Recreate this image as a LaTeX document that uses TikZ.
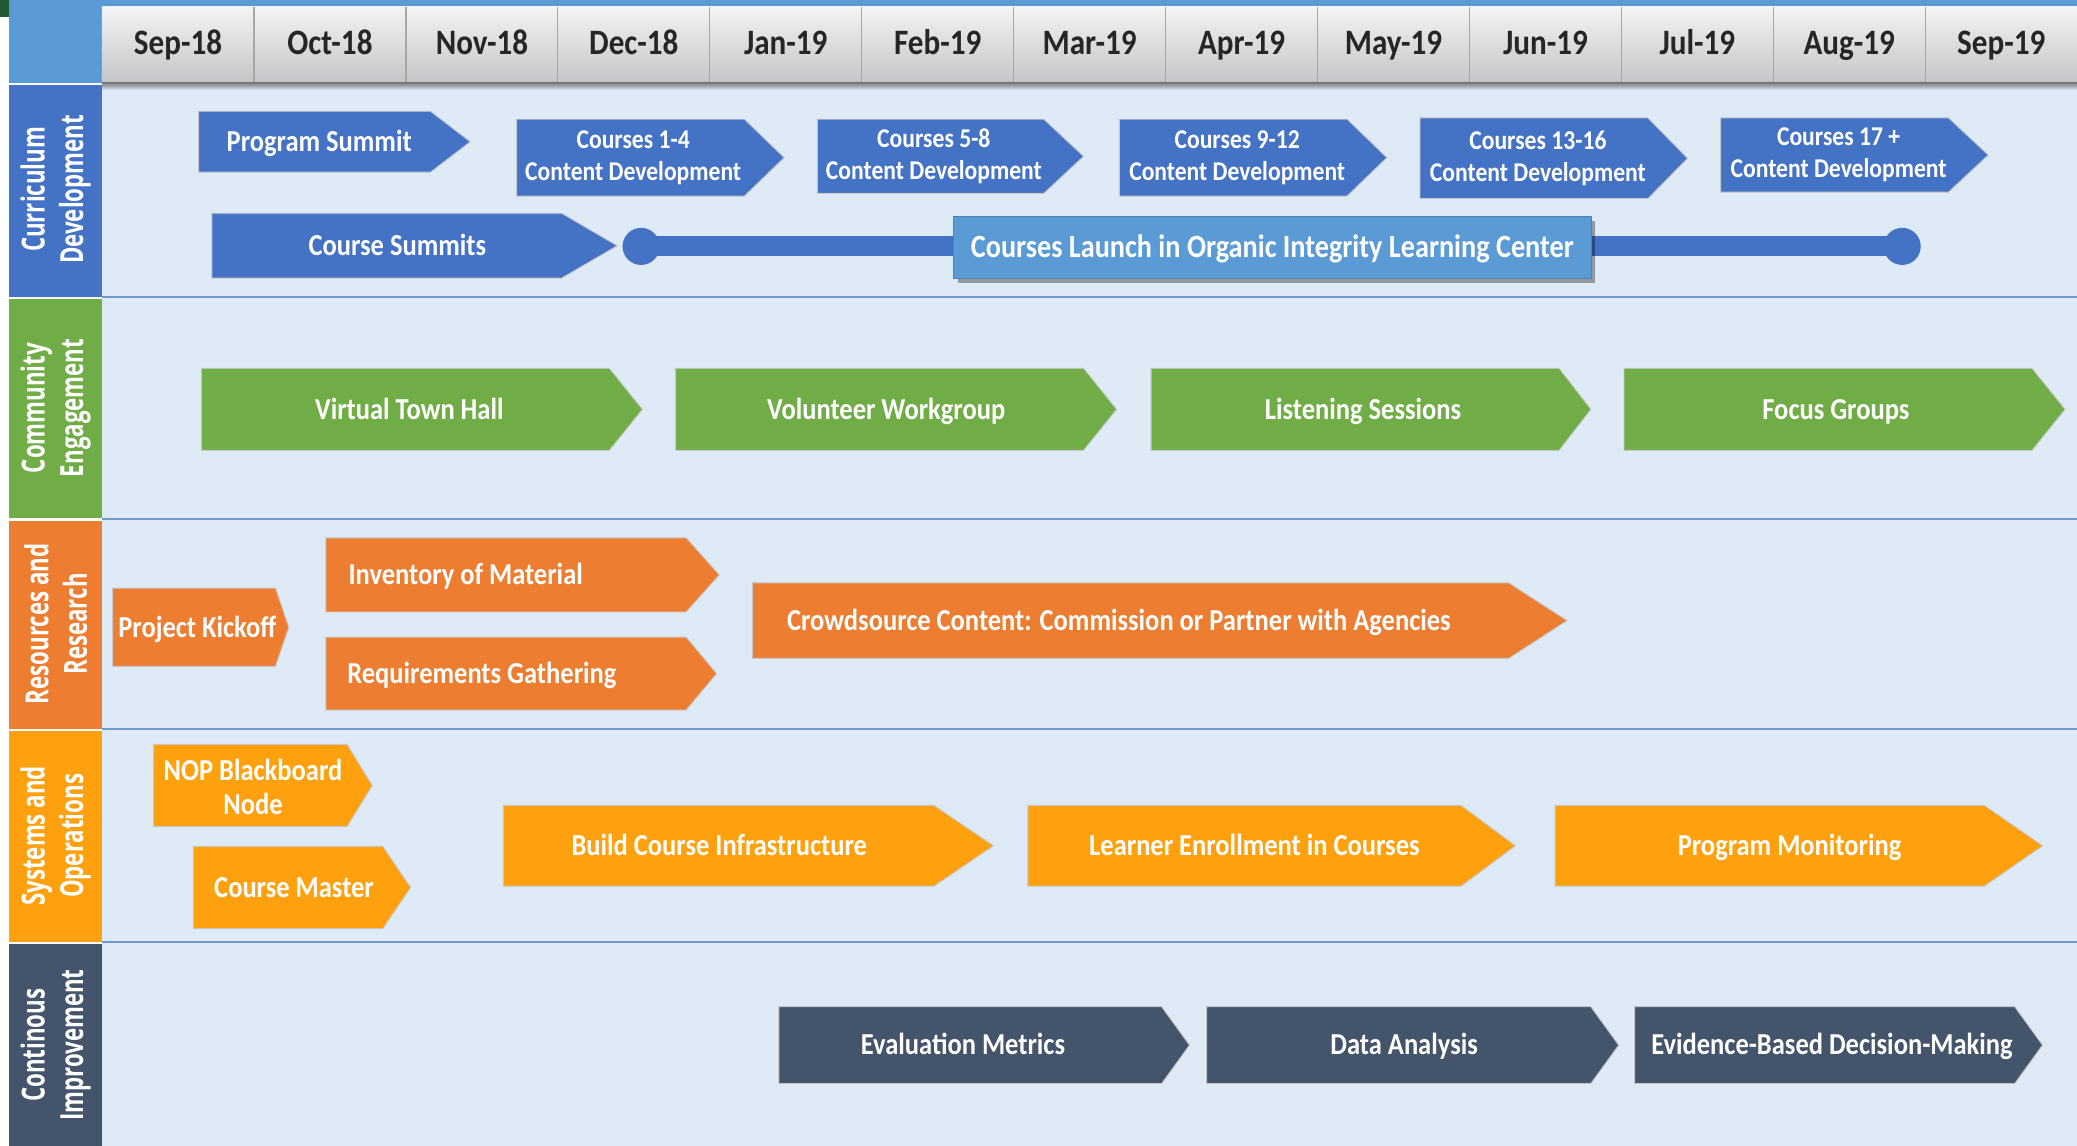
\documentclass[tikz,border=0pt]{standalone}
\usepackage{xcolor}
\usepackage{fontspec}
\setmainfont{Carlito}
\newfontfamily\calfont[FakeStretch=0.87]{Carlito}
\newfontfamily\sidefont[FakeStretch=0.7]{Open Sans}
\usetikzlibrary{shadows}
\definecolor{cdblue}{HTML}{4472C4}
\definecolor{lcblue}{HTML}{5B9BD5}
\definecolor{cegreen}{HTML}{70AD47}
\definecolor{rrorange}{HTML}{ED7D31}
\definecolor{soamber}{HTML}{FFA10F}
\definecolor{cislate}{HTML}{44546A}
\definecolor{laneblue}{HTML}{DEEAF6}
\definecolor{laneline}{HTML}{7098C8}
\definecolor{hdrgray}{HTML}{E6E8EB}
\definecolor{cornergreen}{HTML}{1F5A30}

\begin{document}
\begin{tikzpicture}[x=1pt,y=-1pt,
	month/.style={font=\calfont\bfseries\fontsize{27}{30}\selectfont,text=black!85,anchor=base,inner sep=0pt},
	lane/.style={font=\sidefont\bfseries\fontsize{24}{29}\selectfont,text=white,align=center,rotate=90,inner sep=0pt},
	tagshape/.style={draw=black!22,line width=0.7pt},
	boxtext/.style={font=\calfont\bfseries\fontsize{23}{26}\selectfont,text=white,inner sep=0pt,text height=14.8pt,text depth=0pt},
	twoline/.style={font=\calfont\bfseries\fontsize{20.5}{24}\selectfont,text=white,inner sep=0pt,align=center},
	twobig/.style={font=\calfont\bfseries\fontsize{23}{26}\selectfont,text=white,inner sep=0pt,align=center}]
	\useasboundingbox(0,0) rectangle (1568,865);
	\fill[white](0,0) rectangle (1568,865);
	\fill[cornergreen](0,0) rectangle (7,13);
	\fill[lcblue](7,0) rectangle (1568,5);
	\fill[lcblue](7,5) rectangle (77,63);
	\shade[top color=hdrgray!50!white,bottom color=hdrgray!85!black](77,5) rectangle (1568,62);
	\fill[laneblue](77,63) rectangle (1568,865);
	\shade[top color=black!55,bottom color=laneblue](77,62) rectangle (1568,68);
	\draw[black!35,line width=1pt](191.7,5)--(191.7,62) (306.4,5)--(306.4,62) (421.1,5)--(421.1,62) (535.8,5)--(535.8,62) (650.5,5)--(650.5,62) (765.2,5)--(765.2,62) (879.9,5)--(879.9,62) (994.6,5)--(994.6,62) (1109.3,5)--(1109.3,62) (1224,5)--(1224,62) (1338.7,5)--(1338.7,62) (1453.4,5)--(1453.4,62);
	\node[month](sep18) at(134.4,41){Sep-18};
	\node[month](oct18) at(249.1,41){Oct-18};
	\node[month](nov18) at(363.8,41){Nov-18};
	\node[month](dec18) at(478.5,41){Dec-18};
	\node[month](jan19) at(593.2,41){Jan-19};
	\node[month](feb19) at(707.9,41){Feb-19};
	\node[month](mar19) at(822.6,41){Mar-19};
	\node[month](apr19) at(937.3,41){Apr-19};
	\node[month](may19) at(1052,41){May-19};
	\node[month](jun19) at(1166.7,41){Jun-19};
	\node[month](jul19) at(1281.4,41){Jul-19};
	\node[month](aug19) at(1396.1,41){Aug-19};
	\node[month](sep19) at(1510.8,41){Sep-19};
	\fill[cdblue](7,64) rectangle (77,224);
	\fill[cegreen](7,226) rectangle (77,391);
	\fill[rrorange](7,393) rectangle (77,550);
	\fill[soamber](7,552) rectangle (77,711);
	\fill[cislate](7,713) rectangle (77,865);
	\draw[laneline,line width=1.5pt](77,224.5)--(1568,224.5) (77,391.5)--(1568,391.5) (77,550.5)--(1568,550.5) (77,711.5)--(1568,711.5);
	\node[lane](cdlane) at(42,143){Curriculum\\Development};
	\node[lane](celane) at(42,308){Community\\Engagement};
	\node[lane](rrlane) at(42,471){Resources and\\Research};
	\node[lane](solane) at(42,631){Systems and\\Operations};
	\node[lane](cilane) at(42,789){Continous\\Improvement};
	\filldraw[tagshape,fill=cdblue](150,84)--(325,84)--(355,107)--(325,130)--(150,130)--cycle;
	\node[boxtext](psummit) at(241,107){Program Summit};
	\filldraw[tagshape,fill=cdblue](390,90)--(562,90)--(592,119)--(562,148)--(390,148)--cycle;
	\node[twoline](cdev1) at(478,119){Courses 1-4\\Content Development};
	\filldraw[tagshape,fill=cdblue](617,90)--(788,90)--(818,118)--(788,146)--(617,146)--cycle;
	\node[twoline](cdev2) at(705,118){Courses 5-8\\Content Development};
	\filldraw[tagshape,fill=cdblue](845,90)--(1017,90)--(1047,119)--(1017,148)--(845,148)--cycle;
	\node[twoline](cdev3) at(934,119){Courses 9-12\\Content Development};
	\filldraw[tagshape,fill=cdblue](1072,89)--(1244,89)--(1274,119.5)--(1244,150)--(1072,150)--cycle;
	\node[twoline](cdev4) at(1161,119.5){Courses 13-16\\Content Development};
	\filldraw[tagshape,fill=cdblue](1299,89)--(1471,89)--(1501,117)--(1471,145)--(1299,145)--cycle;
	\node[twoline](cdev5) at(1388,117){Courses 17 +\\Content Development};
	\filldraw[tagshape,fill=cdblue](160,161)--(424,161)--(466,185.5)--(424,210)--(160,210)--cycle;
	\node[boxtext](csummits) at(300,185.5){Course Summits};
	\coordinate(lstart) at(484,186);
	\coordinate(lend) at(1436,186);
	\draw[cdblue,line width=15pt](lstart)--(lend);
	\fill[cdblue](lstart) circle[radius=14pt] (lend) circle[radius=14pt];
	\node[boxtext,font=\calfont\bfseries\fontsize{24.5}{28}\selectfont,text height=15.8pt,fill=lcblue,draw=lcblue!85!black,minimum width=481pt,minimum height=47pt,drop shadow={shadow xshift=3pt,shadow yshift=-4pt,opacity=0.35,fill=black}](launch) at(960.5,186.5){Courses Launch in Organic Integrity Learning Center};
	\filldraw[tagshape,fill=cegreen](152,278)--(460,278)--(485,309)--(460,340)--(152,340)--cycle;
	\node[boxtext](townhall) at(309,309){Virtual Town Hall};
	\filldraw[tagshape,fill=cegreen](510,278)--(818,278)--(843,309)--(818,340)--(510,340)--cycle;
	\node[boxtext](workgroup) at(669,309){Volunteer Workgroup};
	\filldraw[tagshape,fill=cegreen](869,278)--(1177,278)--(1201,309)--(1177,340)--(869,340)--cycle;
	\node[boxtext](listening) at(1029,309){Listening Sessions};
	\filldraw[tagshape,fill=cegreen](1226,278)--(1534,278)--(1559,309)--(1534,340)--(1226,340)--cycle;
	\node[boxtext](focus) at(1386,309){Focus Groups};
	\filldraw[tagshape,fill=rrorange](85,444)--(208,444)--(218,473.5)--(208,503)--(85,503)--cycle;
	\node[boxtext](kickoff) at(149,473.5){Project Kickoff};
	\filldraw[tagshape,fill=rrorange](246,406)--(518,406)--(543,434)--(518,462)--(246,462)--cycle;
	\node[boxtext,anchor=west](inventory) at(263,434){Inventory of Material};
	\filldraw[tagshape,fill=rrorange](246,481)--(518,481)--(541,508.5)--(518,536)--(246,536)--cycle;
	\node[boxtext,anchor=west](requirements) at(262,508.5){Requirements Gathering};
	\filldraw[tagshape,fill=rrorange](568,440)--(1139,440)--(1183,468.5)--(1139,497)--(568,497)--cycle;
	\node[boxtext,anchor=west](crowdsource) at(594,468.5){Crowdsource Content: Commission or Partner with Agencies};
	\filldraw[tagshape,fill=soamber](116,562)--(262,562)--(281,593)--(262,624)--(116,624)--cycle;
	\node[twobig](blackboard) at(191,594){NOP Blackboard\\Node};
	\filldraw[tagshape,fill=soamber](146,639)--(289,639)--(310,670)--(289,701)--(146,701)--cycle;
	\node[boxtext](coursemaster) at(222,670){Course Master};
	\filldraw[tagshape,fill=soamber](380,608)--(705,608)--(750,638.5)--(705,669)--(380,669)--cycle;
	\node[boxtext](infra) at(543,638.5){Build Course Infrastructure};
	\filldraw[tagshape,fill=soamber](776,608)--(1103,608)--(1144,638.5)--(1103,669)--(776,669)--cycle;
	\node[boxtext](enrollment) at(947,638.5){Learner Enrollment in Courses};
	\filldraw[tagshape,fill=soamber](1174,608)--(1498,608)--(1542,638.5)--(1498,669)--(1174,669)--cycle;
	\node[boxtext](monitoring) at(1351,638.5){Program Monitoring};
	\filldraw[tagshape,fill=cislate](588,760)--(877,760)--(898,789)--(877,818)--(588,818)--cycle;
	\node[boxtext](metrics) at(727,789){Evaluation Metrics};
	\filldraw[tagshape,fill=cislate](911,760)--(1201,760)--(1222,789)--(1201,818)--(911,818)--cycle;
	\node[boxtext](analysis) at(1060,789){Data Analysis};
	\filldraw[tagshape,fill=cislate](1234,760)--(1521,760)--(1542,789)--(1521,818)--(1234,818)--cycle;
	\node[boxtext](evidence) at(1383,789){Evidence-Based Decision-Making};
\end{tikzpicture}
\end{document}
